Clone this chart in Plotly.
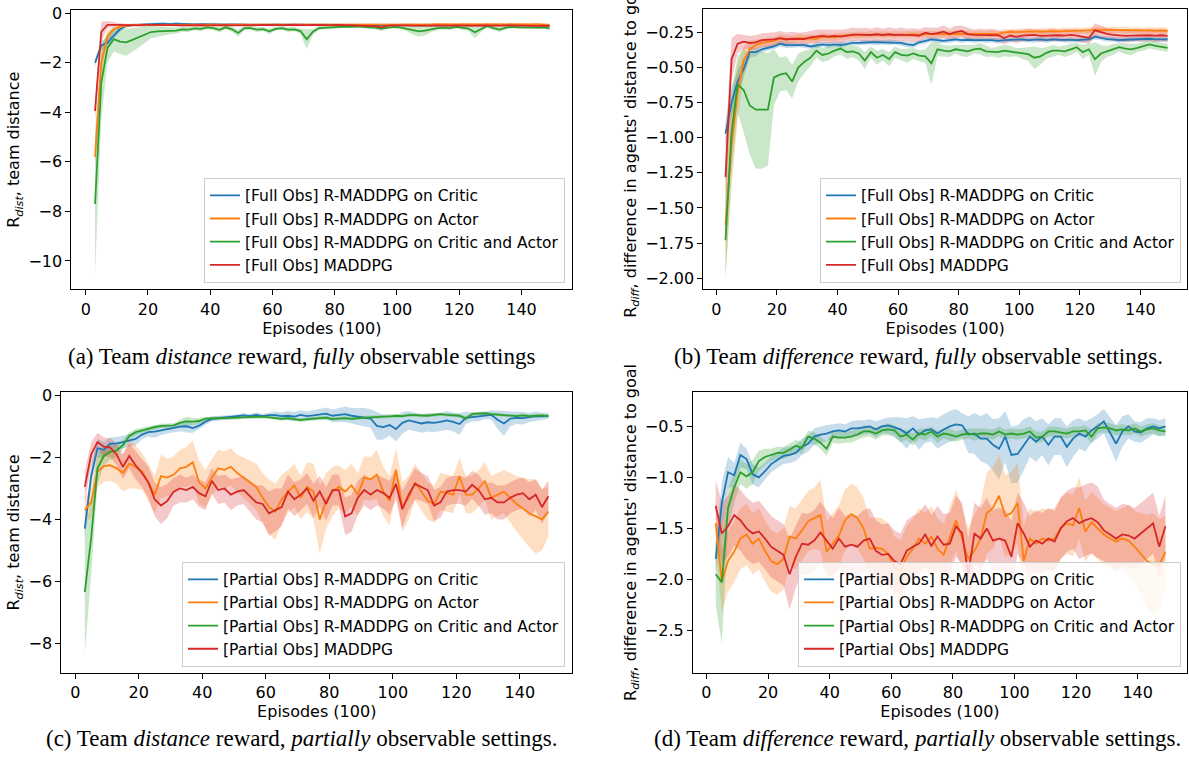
import numpy as np
import plotly.graph_objects as go

# ---------------- data (episodes in units of 100) ----------------
episodes = list(range(3, 150, 2))

series_names = ["R-MADDPG on Critic", "R-MADDPG on Actor",
                "R-MADDPG on Critic and Actor", "MADDPG"]

x_ticks = [0, 20, 40, 60, 80, 100, 120, 140]

# (a) distance reward, full obs
a_blue = [
    -2.0, -1.3, -1.2, -0.9, -0.65, -0.52, -0.48, -0.46, -0.45, -0.43,
    -0.43, -0.42, -0.44, -0.42, -0.44, -0.43, -0.45, -0.44, -0.45, -0.43,
    -0.45, -0.46, -0.45, -0.47, -0.46, -0.47, -0.46, -0.48, -0.47, -0.46,
    -0.48, -0.47, -0.46, -0.48, -0.47, -0.48, -0.47, -0.46, -0.48, -0.47,
    -0.48, -0.47, -0.48, -0.47, -0.48, -0.49, -0.50, -0.48, -0.47, -0.48,
    -0.49, -0.48, -0.47, -0.49, -0.48, -0.47, -0.48, -0.49, -0.48, -0.47,
    -0.48, -0.49, -0.48, -0.47, -0.48, -0.49, -0.48, -0.47, -0.48, -0.49,
    -0.48, -0.47, -0.48, -0.50]
a_blue_s = [
    0.15, 0.20, 0.20, 0.15, 0.10, 0.06, 0.05, 0.04, 0.04, 0.05,
    0.04, 0.05, 0.04, 0.05, 0.04, 0.04, 0.05, 0.04, 0.04, 0.05,
    0.04, 0.04, 0.05, 0.04, 0.04, 0.05, 0.04, 0.04, 0.05, 0.04,
    0.04, 0.05, 0.04, 0.04, 0.05, 0.04, 0.04, 0.05, 0.04, 0.04,
    0.05, 0.04, 0.04, 0.05, 0.04, 0.05, 0.06, 0.05, 0.04, 0.04,
    0.05, 0.04, 0.04, 0.05, 0.04, 0.04, 0.05, 0.04, 0.04, 0.05,
    0.04, 0.05, 0.04, 0.04, 0.05, 0.04, 0.04, 0.05, 0.04, 0.04,
    0.05, 0.04, 0.04, 0.05]
a_orange = [
    -5.8, -2.0, -0.95, -0.65, -0.55, -0.50, -0.48, -0.47, -0.47, -0.46,
    -0.47, -0.46, -0.47, -0.46, -0.47, -0.46, -0.47, -0.48, -0.46, -0.47,
    -0.46, -0.48, -0.47, -0.46, -0.47, -0.48, -0.47, -0.46, -0.47, -0.48,
    -0.47, -0.46, -0.47, -0.48, -0.47, -0.46, -0.47, -0.46, -0.47, -0.46,
    -0.47, -0.46, -0.47, -0.46, -0.47, -0.48, -0.47, -0.46, -0.47, -0.46,
    -0.45, -0.46, -0.45, -0.46, -0.45, -0.44, -0.45, -0.46, -0.45, -0.44,
    -0.45, -0.44, -0.45, -0.44, -0.45, -0.44, -0.45, -0.44, -0.45, -0.44,
    -0.45, -0.44, -0.45, -0.47]
a_orange_s = [
    0.45, 0.50, 0.25, 0.12, 0.08, 0.06, 0.05, 0.04, 0.04, 0.05,
    0.04, 0.05, 0.04, 0.05, 0.04, 0.04, 0.05, 0.04, 0.04, 0.05,
    0.04, 0.04, 0.05, 0.04, 0.04, 0.05, 0.04, 0.04, 0.05, 0.04,
    0.04, 0.05, 0.04, 0.04, 0.05, 0.04, 0.04, 0.05, 0.04, 0.04,
    0.05, 0.04, 0.04, 0.05, 0.04, 0.05, 0.05, 0.05, 0.04, 0.04,
    0.05, 0.04, 0.04, 0.05, 0.04, 0.04, 0.05, 0.04, 0.04, 0.05,
    0.04, 0.05, 0.04, 0.04, 0.05, 0.04, 0.04, 0.05, 0.04, 0.04,
    0.05, 0.04, 0.04, 0.05]
a_green = [
    -7.7, -2.8, -1.4, -1.05, -1.15, -1.18, -1.08, -0.98, -0.85, -0.76,
    -0.73, -0.72, -0.70, -0.70, -0.65, -0.66, -0.61, -0.63, -0.57, -0.60,
    -0.67, -0.57, -0.65, -0.80, -0.60, -0.60, -0.66, -0.64, -0.73, -0.63,
    -0.60, -0.66, -0.65, -0.72, -1.05, -0.75, -0.60, -0.58, -0.56, -0.55,
    -0.54, -0.55, -0.53, -0.55, -0.56, -0.58, -0.62, -0.57, -0.55, -0.57,
    -0.62, -0.68, -0.73, -0.70, -0.64, -0.60, -0.58, -0.60, -0.55, -0.57,
    -0.62, -0.77, -0.65, -0.52, -0.60, -0.66, -0.58, -0.55, -0.57, -0.58,
    -0.56, -0.58, -0.57, -0.61]
a_green_s = [
    2.9, 1.5, 0.6, 0.5, 0.5, 0.55, 0.5, 0.4, 0.35, 0.25,
    0.2, 0.18, 0.15, 0.12, 0.1, 0.1, 0.08, 0.1, 0.08, 0.08,
    0.1, 0.08, 0.1, 0.15, 0.08, 0.08, 0.1, 0.08, 0.12, 0.08,
    0.08, 0.1, 0.08, 0.1, 0.4, 0.12, 0.08, 0.07, 0.06, 0.06,
    0.06, 0.06, 0.05, 0.06, 0.06, 0.08, 0.1, 0.08, 0.06, 0.08,
    0.1, 0.18, 0.22, 0.2, 0.12, 0.08, 0.08, 0.08, 0.06, 0.08,
    0.1, 0.25, 0.12, 0.06, 0.08, 0.1, 0.07, 0.06, 0.06, 0.06,
    0.06, 0.06, 0.06, 0.06]
a_red = [
    -3.95, -0.75, -0.47, -0.46, -0.47, -0.48, -0.50, -0.49, -0.47, -0.46,
    -0.47, -0.48, -0.47, -0.48, -0.49, -0.48, -0.47, -0.48, -0.49, -0.48,
    -0.47, -0.48, -0.49, -0.48, -0.47, -0.49, -0.48, -0.47, -0.48, -0.49,
    -0.48, -0.47, -0.48, -0.49, -0.48, -0.47, -0.48, -0.49, -0.48, -0.47,
    -0.48, -0.49, -0.48, -0.49, -0.50, -0.52, -0.57, -0.50, -0.49, -0.48,
    -0.49, -0.50, -0.49, -0.48, -0.50, -0.49, -0.51, -0.50, -0.49, -0.50,
    -0.51, -0.50, -0.49, -0.50, -0.51, -0.50, -0.49, -0.50, -0.51, -0.50,
    -0.50, -0.51, -0.50, -0.52]
a_red_s = [
    0.40, 0.40, 0.15, 0.08, 0.06, 0.05, 0.05, 0.05, 0.05, 0.05,
    0.05, 0.05, 0.05, 0.06, 0.05, 0.05, 0.05, 0.05, 0.06, 0.05,
    0.05, 0.05, 0.05, 0.05, 0.05, 0.06, 0.05, 0.05, 0.05, 0.05,
    0.05, 0.05, 0.06, 0.05, 0.05, 0.05, 0.05, 0.05, 0.05, 0.05,
    0.05, 0.06, 0.05, 0.05, 0.05, 0.06, 0.08, 0.05, 0.05, 0.05,
    0.05, 0.05, 0.05, 0.05, 0.06, 0.05, 0.05, 0.05, 0.05, 0.05,
    0.05, 0.05, 0.05, 0.06, 0.05, 0.05, 0.05, 0.05, 0.05, 0.05,
    0.05, 0.05, 0.05, 0.05]

# (b) difference reward, full obs
b_blue = [
    -0.97, -0.75, -0.60, -0.51, -0.39, -0.39, -0.37, -0.36, -0.35, -0.33,
    -0.34, -0.34, -0.34, -0.34, -0.35, -0.34, -0.335, -0.34, -0.335, -0.34,
    -0.33, -0.325, -0.325, -0.32, -0.32, -0.32, -0.32, -0.32, -0.32, -0.325,
    -0.335, -0.34, -0.32, -0.31, -0.30, -0.305, -0.31, -0.305, -0.30, -0.305,
    -0.302, -0.305, -0.303, -0.305, -0.305, -0.31, -0.305, -0.302, -0.30, -0.30,
    -0.305, -0.303, -0.30, -0.305, -0.30, -0.302, -0.305, -0.303, -0.305, -0.303,
    -0.30, -0.28, -0.29, -0.297, -0.30, -0.305, -0.302, -0.30, -0.298, -0.30,
    -0.295, -0.30, -0.30, -0.30]
b_blue_s = [
    0.10, 0.10, 0.08, 0.06, 0.04, 0.03, 0.02, 0.02, 0.02, 0.02,
    0.02, 0.02, 0.015, 0.02, 0.015, 0.02, 0.015, 0.02, 0.015, 0.02,
    0.015, 0.02, 0.015, 0.02, 0.015, 0.02, 0.015, 0.02, 0.015, 0.02,
    0.02, 0.02, 0.015, 0.02, 0.015, 0.02, 0.015, 0.02, 0.015, 0.02,
    0.015, 0.02, 0.015, 0.02, 0.015, 0.02, 0.015, 0.02, 0.015, 0.02,
    0.015, 0.02, 0.015, 0.02, 0.015, 0.02, 0.015, 0.02, 0.015, 0.02,
    0.015, 0.02, 0.015, 0.02, 0.015, 0.02, 0.015, 0.02, 0.015, 0.02,
    0.015, 0.02, 0.015, 0.02]
b_orange = [
    -1.62, -1.05, -0.68, -0.45, -0.37, -0.34, -0.325, -0.318, -0.31, -0.292,
    -0.298, -0.30, -0.29, -0.293, -0.293, -0.295, -0.28, -0.285, -0.285, -0.275,
    -0.275, -0.27, -0.268, -0.268, -0.265, -0.265, -0.265, -0.265, -0.265, -0.265,
    -0.265, -0.262, -0.265, -0.262, -0.263, -0.26, -0.262, -0.26, -0.262, -0.26,
    -0.262, -0.26, -0.262, -0.26, -0.26, -0.262, -0.25, -0.245, -0.248, -0.245,
    -0.245, -0.243, -0.245, -0.242, -0.24, -0.242, -0.24, -0.238, -0.24, -0.238,
    -0.237, -0.233, -0.232, -0.232, -0.233, -0.232, -0.235, -0.236, -0.235, -0.237,
    -0.236, -0.237, -0.236, -0.238]
b_orange_s = [
    0.36, 0.30, 0.20, 0.10, 0.06, 0.04, 0.03, 0.03, 0.03, 0.03,
    0.03, 0.025, 0.03, 0.025, 0.03, 0.025, 0.03, 0.025, 0.03, 0.025,
    0.025, 0.02, 0.025, 0.02, 0.025, 0.02, 0.025, 0.02, 0.025, 0.02,
    0.025, 0.02, 0.025, 0.02, 0.025, 0.02, 0.025, 0.02, 0.025, 0.02,
    0.025, 0.02, 0.025, 0.02, 0.025, 0.02, 0.025, 0.02, 0.025, 0.02,
    0.025, 0.02, 0.025, 0.02, 0.025, 0.02, 0.025, 0.02, 0.025, 0.02,
    0.025, 0.02, 0.025, 0.02, 0.025, 0.02, 0.025, 0.02, 0.025, 0.02,
    0.025, 0.02, 0.025, 0.02]
b_green = [
    -1.73, -0.96, -0.62, -0.66, -0.77, -0.80, -0.80, -0.80, -0.57, -0.55,
    -0.54, -0.60, -0.50, -0.46, -0.43, -0.38, -0.41, -0.40, -0.38, -0.365,
    -0.39, -0.385, -0.40, -0.45, -0.39, -0.43, -0.41, -0.44, -0.39, -0.41,
    -0.415, -0.40, -0.415, -0.42, -0.47, -0.37, -0.38, -0.385, -0.37, -0.38,
    -0.385, -0.37, -0.365, -0.385, -0.39, -0.39, -0.38, -0.385, -0.39, -0.40,
    -0.405, -0.43, -0.42, -0.395, -0.38, -0.38, -0.385, -0.37, -0.355, -0.39,
    -0.37, -0.44, -0.40, -0.385, -0.37, -0.355, -0.365, -0.37, -0.36, -0.35,
    -0.335, -0.345, -0.35, -0.36]
b_green_s = [
    0.28, 0.30, 0.20, 0.30, 0.35, 0.42, 0.42, 0.40, 0.20, 0.12,
    0.12, 0.12, 0.10, 0.08, 0.06, 0.05, 0.05, 0.05, 0.04, 0.04,
    0.05, 0.04, 0.05, 0.06, 0.04, 0.05, 0.04, 0.05, 0.04, 0.04,
    0.05, 0.04, 0.04, 0.05, 0.15, 0.05, 0.04, 0.04, 0.03, 0.04,
    0.04, 0.03, 0.04, 0.04, 0.03, 0.04, 0.04, 0.04, 0.03, 0.04,
    0.05, 0.08, 0.06, 0.04, 0.04, 0.03, 0.04, 0.04, 0.03, 0.05,
    0.04, 0.12, 0.06, 0.04, 0.04, 0.03, 0.04, 0.04, 0.03, 0.03,
    0.03, 0.03, 0.03, 0.03]
b_red = [
    -1.28, -0.44, -0.33, -0.316, -0.325, -0.32, -0.305, -0.302, -0.30, -0.29,
    -0.30, -0.295, -0.298, -0.298, -0.285, -0.28, -0.274, -0.28, -0.275, -0.28,
    -0.27, -0.265, -0.265, -0.267, -0.268, -0.263, -0.268, -0.263, -0.268, -0.265,
    -0.268, -0.27, -0.272, -0.252, -0.262, -0.255, -0.245, -0.262, -0.248, -0.24,
    -0.262, -0.268, -0.268, -0.268, -0.268, -0.27, -0.29, -0.272, -0.282, -0.272,
    -0.27, -0.268, -0.275, -0.272, -0.268, -0.27, -0.272, -0.268, -0.272, -0.28,
    -0.288, -0.235, -0.25, -0.26, -0.268, -0.272, -0.275, -0.272, -0.27, -0.272,
    -0.27, -0.272, -0.27, -0.274]
b_red_s = [
    0.25, 0.15, 0.07, 0.05, 0.05, 0.05, 0.05, 0.05, 0.05, 0.05,
    0.05, 0.05, 0.045, 0.05, 0.045, 0.05, 0.045, 0.05, 0.045, 0.05,
    0.045, 0.05, 0.045, 0.05, 0.045, 0.05, 0.045, 0.05, 0.045, 0.05,
    0.045, 0.05, 0.045, 0.04, 0.045, 0.04, 0.045, 0.04, 0.045, 0.04,
    0.045, 0.04, 0.045, 0.04, 0.045, 0.04, 0.045, 0.04, 0.045, 0.04,
    0.045, 0.04, 0.045, 0.04, 0.045, 0.04, 0.045, 0.04, 0.045, 0.04,
    0.045, 0.05, 0.045, 0.04, 0.045, 0.04, 0.045, 0.04, 0.045, 0.04,
    0.045, 0.04, 0.045, 0.04]

# (c) distance reward, partial obs
c_blue = [
    -4.3, -2.6, -1.7, -1.75, -1.55, -1.54, -1.50, -1.46, -1.40, -1.26,
    -1.18, -1.16, -1.12, -1.10, -1.06, -1.00, -0.99, -1.05, -0.97, -0.84,
    -0.75, -0.73, -0.72, -0.70, -0.68, -0.64, -0.66, -0.62, -0.66, -0.63,
    -0.63, -0.66, -0.65, -0.68, -0.62, -0.66, -0.64, -0.61, -0.58, -0.65,
    -0.63, -0.60, -0.65, -0.68, -0.70, -0.74, -0.98, -1.02, -0.95, -1.08,
    -0.88, -0.80, -0.85, -0.90, -0.86, -0.88, -0.85, -0.80, -0.85, -0.92,
    -0.72, -0.69, -0.68, -0.64, -0.62, -0.78, -0.90, -0.74, -0.72, -0.73,
    -0.70, -0.66, -0.67, -0.65]
c_blue_s = [
    0.30, 0.30, 0.30, 0.25, 0.20, 0.20, 0.20, 0.20, 0.20, 0.15,
    0.15, 0.20, 0.15, 0.12, 0.12, 0.15, 0.20, 0.15, 0.12, 0.10,
    0.08, 0.08, 0.07, 0.08, 0.07, 0.08, 0.07, 0.08, 0.07, 0.08,
    0.12, 0.12, 0.15, 0.15, 0.15, 0.15, 0.18, 0.18, 0.20, 0.20,
    0.22, 0.25, 0.25, 0.28, 0.30, 0.30, 0.45, 0.40, 0.35, 0.40,
    0.35, 0.30, 0.30, 0.30, 0.30, 0.30, 0.30, 0.30, 0.30, 0.35,
    0.20, 0.15, 0.15, 0.12, 0.15, 0.30, 0.40, 0.25, 0.20, 0.20,
    0.15, 0.15, 0.12, 0.10]
c_orange = [
    -3.7, -3.45, -2.45, -2.28, -2.25, -2.35, -2.5, -2.2, -2.3, -2.45,
    -2.8, -3.2, -2.6, -2.65, -2.55, -2.35, -2.3, -2.15, -2.8, -3.0,
    -2.65, -2.35, -2.4, -2.3, -2.5, -2.65, -2.8, -2.95, -3.3, -3.6,
    -3.75, -3.35, -3.1, -2.9, -3.3, -2.95, -3.1, -4.0, -3.4, -3.1,
    -2.95, -3.1, -2.9, -3.2, -2.65, -2.7, -2.55, -3.1, -3.4, -2.4,
    -3.6, -3.3, -2.8, -3.1, -3.4, -3.5, -3.1, -3.15, -3.2, -2.6,
    -3.2, -3.2, -3.0, -2.75, -3.3, -3.2, -3.1, -3.3, -3.5, -3.65,
    -3.8, -3.9, -4.0, -3.75]
c_orange_s = [
    0.4, 0.5, 0.5, 0.5, 0.5, 0.5, 0.6, 0.8, 0.7, 0.6,
    0.6, 0.6, 0.7, 0.6, 0.6, 0.6, 0.65, 0.7, 0.7, 0.6,
    0.6, 0.6, 0.6, 0.6, 0.6, 0.65, 0.7, 0.75, 0.8, 0.9,
    0.9, 0.8, 0.7, 0.7, 0.7, 0.8, 0.9, 1.1, 0.9, 0.8,
    0.7, 0.7, 0.7, 0.7, 0.7, 0.7, 0.8, 0.8, 0.8, 0.7,
    0.8, 0.7, 0.6, 0.6, 0.6, 0.6, 0.6, 0.6, 0.6, 0.6,
    0.6, 0.6, 0.6, 0.6, 0.7, 0.7, 0.7, 0.8, 0.9, 1.0,
    1.1, 1.2, 1.0, 0.8]
c_green = [
    -6.35, -4.6, -2.35, -1.95, -1.82, -1.78, -1.60, -1.30, -1.18, -1.12,
    -1.06, -1.02, -0.98, -0.98, -0.96, -0.88, -0.83, -0.84, -0.82, -0.74,
    -0.74, -0.74, -0.73, -0.72, -0.71, -0.70, -0.68, -0.69, -0.68, -0.70,
    -0.72, -0.75, -0.73, -0.76, -0.79, -0.76, -0.74, -0.72, -0.71, -0.76,
    -0.74, -0.73, -0.75, -0.72, -0.71, -0.70, -0.68, -0.68, -0.67, -0.65,
    -0.66, -0.63, -0.63, -0.65, -0.65, -0.62, -0.60, -0.62, -0.63, -0.65,
    -0.74, -0.60, -0.58, -0.57, -0.60, -0.61, -0.64, -0.65, -0.66, -0.64,
    -0.66, -0.65, -0.64, -0.66]
c_green_s = [
    2.0, 1.2, 0.5, 0.3, 0.25, 0.2, 0.15, 0.12, 0.1, 0.08,
    0.08, 0.08, 0.07, 0.08, 0.07, 0.1, 0.15, 0.12, 0.1, 0.06,
    0.06, 0.05, 0.06, 0.05, 0.06, 0.05, 0.06, 0.05, 0.06, 0.05,
    0.05, 0.06, 0.05, 0.06, 0.06, 0.05, 0.06, 0.05, 0.06, 0.05,
    0.05, 0.06, 0.05, 0.06, 0.05, 0.06, 0.05, 0.06, 0.05, 0.06,
    0.05, 0.06, 0.05, 0.06, 0.05, 0.06, 0.05, 0.06, 0.05, 0.06,
    0.08, 0.06, 0.05, 0.06, 0.05, 0.06, 0.05, 0.06, 0.05, 0.06,
    0.05, 0.06, 0.05, 0.06]
c_red = [
    -2.95, -1.9, -1.5, -1.65, -1.68, -1.9, -2.3, -1.95, -2.25, -2.5,
    -2.8, -3.35, -3.55, -3.4, -3.1, -3.0, -3.05, -2.95, -3.15, -3.25,
    -2.75, -3.05, -3.0, -3.2, -3.1, -3.05, -3.25, -3.45, -3.5, -3.8,
    -3.7, -3.6, -3.1, -3.35, -3.2, -3.0, -3.4, -3.1, -3.5, -3.05,
    -3.05, -3.9, -3.8, -3.3, -3.05, -3.2, -3.05, -3.15, -3.3, -2.85,
    -3.67, -3.2, -2.85, -2.95, -3.05, -3.55, -3.45, -3.1, -3.05, -3.05,
    -3.1, -2.88, -3.05, -3.35, -3.3, -3.45, -3.45, -3.3, -3.2, -3.15,
    -3.35, -3.2, -3.6, -3.25]
c_red_s = [
    0.5, 0.4, 0.3, 0.3, 0.3, 0.35, 0.4, 0.4, 0.45, 0.45,
    0.5, 0.55, 0.6, 0.55, 0.45, 0.45, 0.4, 0.4, 0.45, 0.45,
    0.4, 0.45, 0.45, 0.5, 0.45, 0.45, 0.5, 0.55, 0.6, 0.7,
    0.7, 0.6, 0.55, 0.55, 0.5, 0.5, 0.55, 0.5, 0.55, 0.5,
    0.5, 0.6, 0.6, 0.55, 0.5, 0.5, 0.5, 0.5, 0.55, 0.5,
    0.6, 0.5, 0.5, 0.45, 0.45, 0.5, 0.5, 0.45, 0.45, 0.45,
    0.45, 0.45, 0.5, 0.5, 0.5, 0.55, 0.55, 0.5, 0.5, 0.5,
    0.55, 0.5, 0.55, 0.5]

# (d) difference reward, partial obs
d_blue = [
    -1.8, -1.25, -0.95, -0.98, -0.78, -0.82, -0.97, -1.0, -0.94, -0.87,
    -0.83, -0.79, -0.78, -0.76, -0.70, -0.67, -0.60, -0.58, -0.57, -0.55,
    -0.54, -0.55, -0.52, -0.52, -0.51, -0.50, -0.53, -0.50, -0.49, -0.51,
    -0.53, -0.57, -0.52, -0.58, -0.54, -0.53, -0.57, -0.53, -0.50, -0.48,
    -0.49, -0.58, -0.57, -0.62, -0.62, -0.68, -0.72, -0.60, -0.78, -0.77,
    -0.68, -0.60, -0.65, -0.60, -0.68, -0.60, -0.60, -0.70, -0.62, -0.57,
    -0.60, -0.54, -0.50, -0.45, -0.56, -0.67, -0.55, -0.50, -0.55, -0.56,
    -0.52, -0.50, -0.52, -0.50]
d_blue_s = [
    0.15, 0.2, 0.15, 0.12, 0.12, 0.1, 0.1, 0.1, 0.08, 0.08,
    0.08, 0.08, 0.08, 0.08, 0.08, 0.08, 0.08, 0.08, 0.08, 0.07,
    0.07, 0.07, 0.07, 0.08, 0.07, 0.07, 0.08, 0.07, 0.08, 0.1,
    0.12, 0.15, 0.12, 0.15, 0.12, 0.12, 0.15, 0.15, 0.15, 0.15,
    0.12, 0.18, 0.2, 0.22, 0.25, 0.25, 0.3, 0.25, 0.28, 0.28,
    0.25, 0.2, 0.2, 0.18, 0.2, 0.18, 0.18, 0.2, 0.18, 0.15,
    0.15, 0.12, 0.12, 0.12, 0.15, 0.18, 0.15, 0.12, 0.1, 0.1,
    0.1, 0.08, 0.08, 0.08]
d_orange = [
    -1.45, -2.02, -1.82, -1.73, -1.60, -1.56, -1.65, -1.60, -1.72, -1.82,
    -1.85, -1.80, -1.58, -1.60, -1.52, -1.43, -1.40, -1.37, -1.73, -1.65,
    -1.57, -1.42, -1.36, -1.40, -1.50, -1.70, -1.69, -1.70, -1.75, -1.88,
    -1.92, -1.78, -1.70, -1.60, -1.65, -1.58, -1.70, -1.76, -1.58, -1.42,
    -1.60, -1.80, -1.72, -1.60, -1.35, -1.30, -1.18, -1.38, -1.35, -1.25,
    -1.82, -1.60, -1.65, -1.60, -1.62, -1.60, -1.50, -1.45, -1.47, -1.30,
    -1.53, -1.44, -1.50, -1.56, -1.60, -1.63, -1.60, -1.62, -1.68, -1.75,
    -1.82, -1.85, -1.86, -1.73]
d_orange_s = [
    0.25, 0.3, 0.3, 0.3, 0.3, 0.3, 0.3, 0.3, 0.3, 0.3,
    0.3, 0.3, 0.3, 0.3, 0.3, 0.3, 0.3, 0.35, 0.3, 0.3,
    0.3, 0.3, 0.3, 0.3, 0.3, 0.3, 0.3, 0.3, 0.3, 0.3,
    0.3, 0.3, 0.3, 0.3, 0.3, 0.3, 0.3, 0.3, 0.3, 0.3,
    0.3, 0.3, 0.35, 0.35, 0.4, 0.4, 0.4, 0.4, 0.4, 0.4,
    0.35, 0.3, 0.3, 0.3, 0.3, 0.3, 0.3, 0.3, 0.3, 0.3,
    0.3, 0.3, 0.3, 0.3, 0.3, 0.3, 0.3, 0.35, 0.35, 0.4,
    0.45, 0.5, 0.45, 0.35]
d_green = [
    -1.95, -2.03, -1.30, -1.10, -0.95, -0.99, -0.95, -0.84, -0.80, -0.78,
    -0.76, -0.76, -0.73, -0.69, -0.71, -0.60, -0.62, -0.66, -0.72, -0.60,
    -0.61, -0.61, -0.60, -0.58, -0.55, -0.55, -0.57, -0.54, -0.53, -0.54,
    -0.60, -0.58, -0.63, -0.57, -0.58, -0.55, -0.60, -0.57, -0.58, -0.60,
    -0.58, -0.57, -0.58, -0.57, -0.57, -0.58, -0.55, -0.58, -0.57, -0.58,
    -0.57, -0.55, -0.61, -0.60, -0.55, -0.55, -0.56, -0.57, -0.55, -0.55,
    -0.54, -0.60, -0.52, -0.51, -0.52, -0.54, -0.53, -0.54, -0.52, -0.55,
    -0.53, -0.52, -0.54, -0.55]
d_green_s = [
    0.3, 0.6, 0.2, 0.15, 0.12, 0.12, 0.12, 0.1, 0.08, 0.06,
    0.06, 0.06, 0.06, 0.06, 0.06, 0.06, 0.06, 0.06, 0.07, 0.06,
    0.06, 0.05, 0.06, 0.05, 0.06, 0.05, 0.06, 0.05, 0.06, 0.05,
    0.06, 0.05, 0.06, 0.05, 0.06, 0.05, 0.06, 0.05, 0.06, 0.05,
    0.05, 0.05, 0.06, 0.05, 0.05, 0.05, 0.05, 0.05, 0.05, 0.05,
    0.05, 0.05, 0.06, 0.05, 0.05, 0.05, 0.05, 0.05, 0.05, 0.05,
    0.05, 0.07, 0.05, 0.05, 0.05, 0.05, 0.05, 0.05, 0.05, 0.05,
    0.05, 0.05, 0.05, 0.05]
d_red = [
    -1.28, -1.55, -1.48, -1.37, -1.42, -1.50, -1.55, -1.53, -1.60, -1.68,
    -1.72, -1.76, -1.95, -1.78, -1.65, -1.66, -1.62, -1.54, -1.62, -1.70,
    -1.60, -1.68, -1.66, -1.68, -1.62, -1.60, -1.72, -1.76, -1.75, -1.82,
    -1.85, -1.72, -1.68, -1.65, -1.56, -1.67, -1.58, -1.66, -1.65, -1.48,
    -1.55, -1.95, -1.55, -1.60, -1.50, -1.62, -1.60, -1.62, -1.78, -1.45,
    -1.55, -1.68, -1.62, -1.65, -1.60, -1.63, -1.50, -1.43, -1.40, -1.45,
    -1.42, -1.40, -1.44, -1.52, -1.56, -1.60, -1.56, -1.57, -1.60, -1.55,
    -1.50, -1.45, -1.68, -1.48]
d_red_s = [
    0.25, 0.3, 0.3, 0.3, 0.3, 0.3, 0.3, 0.3, 0.3, 0.3,
    0.3, 0.3, 0.35, 0.3, 0.3, 0.3, 0.3, 0.3, 0.3, 0.3,
    0.3, 0.3, 0.3, 0.3, 0.3, 0.3, 0.3, 0.3, 0.3, 0.3,
    0.3, 0.3, 0.3, 0.3, 0.3, 0.3, 0.3, 0.3, 0.3, 0.3,
    0.3, 0.35, 0.3, 0.3, 0.3, 0.3, 0.3, 0.3, 0.35, 0.3,
    0.3, 0.3, 0.3, 0.3, 0.3, 0.3, 0.3, 0.3, 0.3, 0.35,
    0.35, 0.35, 0.35, 0.3, 0.3, 0.3, 0.3, 0.3, 0.3, 0.3,
    0.3, 0.3, 0.3, 0.3]

# ---------------- styling ----------------
COLORS = ["#1f77b4", "#ff7f0e", "#2ca02c", "#d62728"]
BANDS = ["rgba(31,119,180,0.25)", "rgba(255,127,14,0.25)",
         "rgba(44,160,44,0.25)", "rgba(214,39,40,0.25)"]
SANS = "DejaVu Sans"
SERIF = "Liberation Serif"
FS = 16
LFS = 15.5
W, H = 1189, 757

panels = [
    dict(prefix="[Full Obs]", means=[a_blue, a_orange, a_green, a_red],
         spreads=[a_blue_s, a_orange_s, a_green_s, a_red_s],
         xdom=(71.4, 572.2), ydom=(4.0, 285.7), xr=[-4.6, 156.3], yr=[-11.15, 0.13],
         ytitle="R<sub><i>dist</i></sub>, team distance",
         ytickvals=[0, -2, -4, -6, -8, -10], ytickfmt="d",
         leg=(565, 279)),
    dict(prefix="[Full Obs]", means=[b_blue, b_orange, b_green, b_red],
         spreads=[b_blue_s, b_orange_s, b_green_s, b_red_s],
         xdom=(703.4, 1187.0), ydom=(3.3, 285.7), xr=[-4.3, 155.4], yr=[-2.08, -0.085],
         ytitle="R<sub><i>diff</i></sub>, difference in agents' distance to goal",
         ytickvals=[-0.25, -0.5, -0.75, -1.0, -1.25, -1.5, -1.75, -2.0], ytickfmt=".2f",
         leg=(1181, 279)),
    dict(prefix="[Partial Obs]", means=[c_blue, c_orange, c_green, c_red],
         spreads=[c_blue_s, c_orange_s, c_green_s, c_red_s],
         xdom=(61.3, 572.2), ydom=(389.3, 672.0), xr=[-4.4, 156.5], yr=[-8.95, 0.11],
         ytitle="R<sub><i>dist</i></sub>, team distance",
         ytickvals=[0, -2, -4, -6, -8], ytickfmt="d",
         leg=(565, 666)),
    dict(prefix="[Partial Obs]", means=[d_blue, d_orange, d_green, d_red],
         spreads=[d_blue_s, d_orange_s, d_green_s, d_red_s],
         xdom=(692.9, 1187.0), ydom=(389.3, 672.0), xr=[-4.4, 156.0], yr=[-2.915, -0.165],
         ytitle="R<sub><i>diff</i></sub>, difference in agents' distance to goal",
         ytickvals=[-0.5, -1.0, -1.5, -2.0, -2.5], ytickfmt=".1f",
         leg=(1181, 666)),
]

captions = [
    ("(a) Team <i>distance</i> reward, <i>fully</i> observable settings", 301.7, 353),
    ("(b) Team <i>difference</i> reward, <i>fully</i> observable settings.", 918.6, 353),
    ("(c) Team <i>distance</i> reward, <i>partially</i> observable settings.", 301.7, 738),
    ("(d) Team <i>difference</i> reward, <i>partially</i> observable settings.", 917.0, 738),
]

fig = go.Figure()
x = np.array(episodes, dtype=float)
layout = {}

for i, p in enumerate(panels):
    n = "" if i == 0 else str(i + 1)
    xa, ya = "x" + n, "y" + n
    legname = "legend" + n
    for k in range(4):
        m = np.array(p["means"][k])
        s = np.array(p["spreads"][k])
        up, lo = m + s, m - s
        fig.add_trace(go.Scatter(
            x=np.concatenate([x, x[::-1]]), y=np.concatenate([up, lo[::-1]]),
            fill="toself", fillcolor=BANDS[k], line=dict(width=0),
            mode="lines", hoverinfo="skip", showlegend=False,
            xaxis=xa, yaxis=ya))
    for k in range(4):
        fig.add_trace(go.Scatter(
            x=x, y=p["means"][k], mode="lines",
            line=dict(color=COLORS[k], width=1.8),
            name=f"{p['prefix']} {series_names[k]}",
            legend=legname, xaxis=xa, yaxis=ya))

    axis_common = dict(showline=True, linecolor="black", linewidth=1, mirror=True,
                       ticks="outside", ticklen=5, tickwidth=1, tickcolor="black",
                       showgrid=False, zeroline=False,
                       tickfont=dict(family=SANS, size=FS, color="black"))
    layout["xaxis" + n] = dict(
        axis_common, domain=[p["xdom"][0] / W, p["xdom"][1] / W], range=p["xr"],
        anchor=ya, tickvals=x_ticks,
        title=dict(text="Episodes (100)", font=dict(family=SANS, size=FS, color="black"),
                   standoff=0))
    layout["yaxis" + n] = dict(
        axis_common, domain=[1 - p["ydom"][1] / H, 1 - p["ydom"][0] / H], range=p["yr"],
        anchor=xa, tickvals=p["ytickvals"], tickformat=p["ytickfmt"],
        title=dict(text=p["ytitle"], font=dict(family=SANS, size=FS, color="black"),
                   standoff=4))
    layout[legname] = dict(
        x=p["leg"][0] / W, y=1 - p["leg"][1] / H, xanchor="right", yanchor="bottom",
        bgcolor="rgba(255,255,255,0.8)", bordercolor="#cccccc", borderwidth=1,
        font=dict(family=SANS, size=LFS, color="black"), itemwidth=30, tracegroupgap=0)

annotations = [
    dict(text=t, x=cx / W, y=1 - cy / H, xref="paper", yref="paper",
         xanchor="center", yanchor="middle", showarrow=False,
         font=dict(family=SERIF, size=23, color="black"))
    for t, cx, cy in captions
]

fig.update_layout(
    width=W, height=H, autosize=False,
    margin=dict(l=0, r=0, t=0, b=0),
    paper_bgcolor="white", plot_bgcolor="white",
    annotations=annotations, **layout)

fig.write_html("out.html",
               config={"displayModeBar": False},
               post_script="document.body.style.margin='0';"
                           "document.body.style.overflow='hidden';")
